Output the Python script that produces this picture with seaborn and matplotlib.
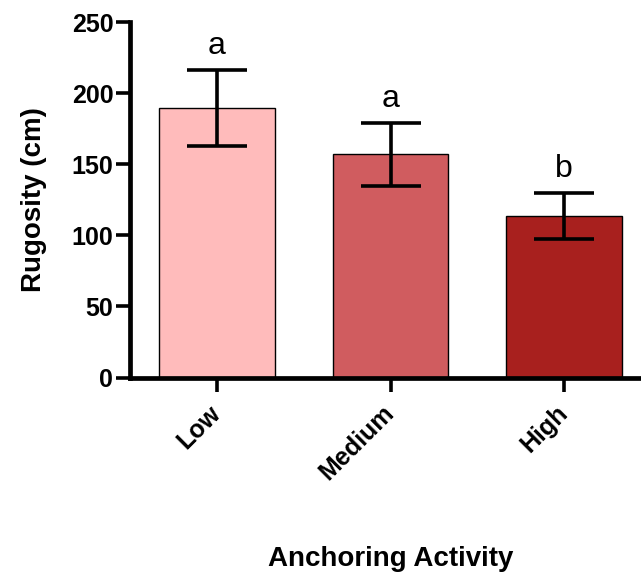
import matplotlib
matplotlib.use("Agg")
import matplotlib.pyplot as plt
import seaborn as sns

categories = ["Low", "Medium", "High"]
means = [189.5, 157.0, 113.5]
errors = [27.0, 22.3, 16.2]
letters = ["a", "a", "b"]
colors = ["#FFBBBB", "#D05C5F", "#A8201E"]
yticks = [0, 50, 100, 150, 200, 250]

sns.set_theme(style="ticks")
plt.rcParams["font.family"] = ["Liberation Sans", "DejaVu Sans"]
plt.rcParams["text.color"] = "black"
plt.rcParams["axes.labelcolor"] = "black"
plt.rcParams["xtick.color"] = "black"
plt.rcParams["ytick.color"] = "black"

fig = plt.figure(figsize=(6.41, 5.75), dpi=100)
ax = fig.add_axes([130 / 641, 197.5 / 575, 521 / 641, 355.5 / 575])

sns.barplot(x=categories, y=means, hue=categories, palette=colors,
            saturation=1, legend=False, width=0.667, edgecolor="black",
            linewidth=1.0, ax=ax)

ax.errorbar(range(len(categories)), means, yerr=errors, fmt="none",
            ecolor="black", elinewidth=2.6, capsize=30 * 0.72, capthick=2.6,
            zorder=5)

for i, (m, e, t) in enumerate(zip(means, errors, letters)):
    ax.text(i, m + e + 11, t, ha="center", va="baseline", fontsize=23,
            color="black")

ax.set_xlim(-0.5, 2.5)
ax.set_ylim(0, 250)
ax.set_yticks(yticks)
ax.set_yticklabels([str(v) for v in yticks], fontsize=18, fontweight="bold")
ax.set_xticks(range(len(categories)))
ax.set_xticklabels(categories, fontsize=18, fontweight="bold", rotation=45,
                   ha="right", va="center", rotation_mode="anchor")

for side in ["top", "right"]:
    ax.spines[side].set_visible(False)
for side in ["left", "bottom"]:
    ax.spines[side].set_linewidth(3.4)
    ax.spines[side].set_color("black")
ax.tick_params(axis="both", which="major", length=10, width=2.6,
               color="black", direction="out")
ax.tick_params(axis="y", pad=2)
ax.tick_params(axis="x", pad=13)

ax.set_ylabel("Rugosity (cm)", fontsize=20, fontweight="bold", labelpad=18)
ax.set_xlabel("Anchoring Activity", fontsize=20, fontweight="bold",
              labelpad=44)

fig.savefig("out.png", dpi=100)
